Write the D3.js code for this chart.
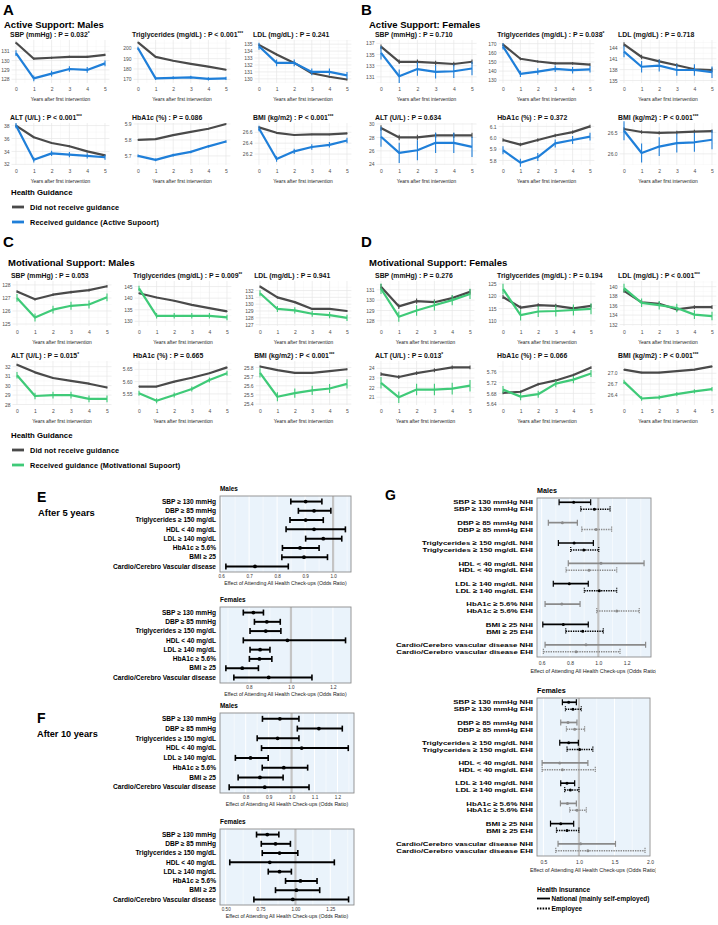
<!DOCTYPE html>
<html>
<head>
<meta charset="utf-8">
<script src="https://cdn.jsdelivr.net/npm/d3@7"></script>
<style>
  body { margin: 0; background: #fff; }
  svg { display: block; font-family: "Liberation Sans", Arial, Helvetica, sans-serif; }
</style>
</head>
<body>
<svg id="fig" width="718" height="925"></svg>
<script>
"use strict";

// ---------- data: trend panels A-D ----------
const years = [0, 1, 2, 3, 4, 5];
const measures = ["SBP (mmHg)", "Triglycerides (mg/dL)", "LDL (mg/dL)", "ALT (U/L)", "HbA1c (%)", "BMI (kg/m2)"];

const pA = ["= 0.032*", "< 0.001***", "= 0.241", "< 0.001***", "= 0.086", "< 0.001***"];
const ticksA = [[128, 129, 130, 131], [170, 180, 190, 200], [130, 131, 132, 133, 134, 135], [32, 34, 36, 38], [5.7, 5.8, 5.9], [26.2, 26.4, 26.6]];
const fmtA = ["d", "d", "d", "d", ".1f", ".1f"];
const domainA = [[127.6, 132.2], [166.5, 208], [129.4, 135.6], [31.9, 38.4], [5.643, 5.906], [26.0, 26.77]];
const noGuidanceA = [[131.9, 130.2, 130.3, 130.4, 130.4, 130.6], [205.7, 191.7, 188, 185, 182.3, 179.3], [134.9, 133.5, 132.3, 130.8, 130.3, 129.9], [38.0, 36.2, 35.3, 34.8, 34.0, 33.4], [5.80, 5.805, 5.83, 5.85, 5.87, 5.90], [26.69, 26.59, 26.55, 26.56, 26.56, 26.58]];
const guidanceA = [[130.8, 128.1, 128.6, 129.1, 129.0, 129.7], [200, 171, 171.5, 172, 170.5, 171], [134.7, 132.3, 132.3, 131.0, 131.0, 130.5], [38.0, 32.7, 33.7, 33.5, 33.3, 33.1], [5.70, 5.675, 5.705, 5.725, 5.76, 5.79], [26.67, 26.11, 26.25, 26.33, 26.37, 26.45]];
const errA = [[0.12, 0.3], [0.7, 1.5], [0.15, 0.5], [0.15, 0.4], [0.004, 0.008], [0.015, 0.05]];

const pB = ["= 0.710", "= 0.038*", "= 0.718", "= 0.634", "= 0.372", "< 0.001***"];
const ticksB = [[131, 133, 135, 137], [130, 140, 150, 160, 170], [135, 138, 141, 144], [24, 26, 28, 30], [5.8, 5.9, 6.0, 6.1], [26.0, 26.5]];
const fmtB = ["d", "d", "d", "d", ".1f", ".1f"];
const domainB = [[129.9, 137.6], [127, 174], [134.3, 146.2], [23.9, 30.15], [5.76, 6.13], [25.74, 26.72]];
const noGuidanceB = [[136.4, 133.7, 133.7, 133.5, 133.3, 133.7], [169, 153.5, 150.5, 148.5, 148.5, 147], [145, 141.5, 140.3, 139.2, 138.1, 137.9], [29.4, 28.0, 28.0, 28.3, 28.3, 28.3], [5.98, 5.94, 5.98, 6.02, 6.05, 6.10], [26.58, 26.51, 26.49, 26.50, 26.52, 26.53]];
const guidanceB = [[135.3, 131.1, 132.4, 131.9, 132.0, 132.5], [167, 137, 139.5, 142.5, 141, 142], [143, 138.8, 139.1, 137.9, 137.9, 137.3], [28.1, 25.7, 26.1, 27.2, 27.2, 26.6], [5.89, 5.78, 5.83, 5.95, 5.98, 6.01], [26.54, 26.02, 26.17, 26.25, 26.27, 26.33]];
const errB = [[0.4, 1.2], [1.5, 3.5], [0.6, 1.6], [0.4, 1.5], [0.015, 0.035], [0.04, 0.22]];

const pC = ["= 0.053", "= 0.009**", "= 0.941", "= 0.015*", "= 0.665", "< 0.001***"];
const ticksC = [[125, 126, 127, 128], [130, 135, 140, 145], [127, 128, 129, 130, 131, 132], [28, 29, 30, 31, 32], [5.55, 5.60, 5.65], [25.4, 25.5, 25.6, 25.7, 25.8]];
const fmtC = ["d", "d", "d", "d", ".2f", ".1f"];
const domainC = [[124.85, 128.3], [128, 147.4], [126.8, 133.4], [27.95, 32.6], [5.505, 5.684], [25.39, 25.87]];
const noGuidanceC = [[127.5, 126.9, 127.25, 127.45, 127.6, 127.9], [142.1, 140.3, 138.9, 137.1, 135.7, 134.3], [132.6, 131.0, 130.3, 129.3, 129.3, 129.0], [32.2, 31.4, 30.8, 30.5, 30.2, 29.8], [5.58, 5.58, 5.60, 5.616, 5.634, 5.658], [25.81, 25.77, 25.74, 25.74, 25.76, 25.78]];
const guidanceC = [[127.0, 125.5, 126.1, 126.4, 126.5, 127.05], [144.2, 132.4, 132.4, 132.4, 132.4, 131.7], [131.6, 129.3, 129.1, 128.6, 128.4, 128.0], [31.1, 28.9, 29.0, 29.0, 28.6, 28.6], [5.553, 5.522, 5.546, 5.57, 5.607, 5.634], [25.74, 25.48, 25.52, 25.55, 25.57, 25.62]];
const errC = [[0.1, 0.3], [0.3, 1.2], [0.15, 0.45], [0.1, 0.35], [0.003, 0.01], [0.01, 0.05]];

const pD = ["= 0.276", "= 0.194", "< 0.001***", "= 0.013*", "= 0.066", "< 0.001***"];
const ticksD = [[128, 129, 130, 131], [110, 115, 120, 125], [132, 134, 136, 138, 140], [21, 22, 23, 24], [5.64, 5.68, 5.72, 5.76], [26.4, 26.7, 27.0]];
const fmtD = ["d", "d", "d", "d", ".2f", ".1f"];
const domainD = [[127.5, 131.85], [107.9, 126.2], [131.7, 141.2], [20.2, 24.76], [5.637, 5.80], [26.12, 27.34]];
const noGuidanceD = [[131.3, 129.4, 129.9, 129.8, 130.2, 130.8], [119.7, 115.4, 116.4, 116.1, 115.1, 116.1], [139.1, 136.7, 136.4, 135.2, 135.7, 135.7], [23.4, 23.1, 23.5, 23.8, 24.1, 24.1], [5.682, 5.686, 5.714, 5.728, 5.748, 5.776], [27.1, 27.02, 27.02, 27.06, 27.1, 27.19]];
const guidanceD = [[131.1, 128.4, 129.0, 129.5, 130.0, 130.6], [122.9, 112.3, 113.8, 114.0, 114.4, 114.9], [139.7, 136.6, 136.1, 135.5, 134.1, 133.8], [22.5, 21.0, 21.8, 21.8, 21.9, 22.2], [5.694, 5.668, 5.677, 5.716, 5.731, 5.754], [26.76, 26.3, 26.33, 26.42, 26.5, 26.56]];
const errD = [[0.25, 0.5], [0.8, 2.2], [0.4, 0.9], [0.2, 0.6], [0.005, 0.013], [0.02, 0.06]];

// ---------- data: forest plots E-G (lower CI, odds ratio, upper CI) ----------
const riskLabels = ["SBP ≥ 130 mmHg", "DBP ≥ 85 mmHg", "Triglycerides ≥ 150 mg/dL", "HDL < 40 mg/dL", "LDL ≥ 140 mg/dL", "HbA1c ≥ 5.6%", "BMI ≥ 25", "Cardio/Cerebro Vascular disease"];
const riskLabelsG = ["SBP ≥ 130 mmHg", "DBP ≥ 85 mmHg", "Triglycerides ≥ 150 mg/dL", "HDL < 40 mg/dL", "LDL ≥ 140 mg/dL", "HbA1c ≥ 5.6%", "BMI ≥ 25", "Cardio/Cerebro vascular disease"];

const or5Males = [[0.849, 0.902, 0.96], [0.876, 0.932, 0.992], [0.846, 0.902, 0.965], [0.832, 0.932, 1.044], [0.902, 0.965, 1.031], [0.819, 0.882, 0.95], [0.817, 0.896, 0.98], [0.617, 0.721, 0.84]];
const or5Females = [[0.773, 0.821, 0.869], [0.826, 0.885, 0.949], [0.805, 0.88, 0.952], [0.773, 0.983, 1.26], [0.805, 0.853, 0.9], [0.802, 0.85, 0.909], [0.69, 0.768, 0.845], [0.728, 0.894, 1.1]];
const or10Males = [[0.873, 0.949, 1.032], [1.025, 1.119, 1.221], [0.85, 0.939, 1.032], [0.869, 1.044, 1.247], [0.755, 0.821, 0.898], [0.872, 0.966, 1.07], [0.767, 0.862, 0.963], [0.728, 0.883, 1.076]];
const or10Females = [[0.721, 0.798, 0.881], [0.755, 0.857, 0.964], [0.762, 0.886, 1.017], [0.529, 0.816, 1.279], [0.805, 0.886, 0.971], [0.929, 1.036, 1.155], [0.857, 1.007, 1.174], [0.702, 0.981, 1.381]];

const nhiMales = [[0.723, 0.826, 0.946], [0.647, 0.746, 0.852], [0.718, 0.829, 0.965], [0.788, 1.019, 1.323], [0.682, 0.795, 0.929], [0.624, 0.742, 0.871], [0.608, 0.753, 0.929], [0.624, 0.913, 1.334]];
const ehiMales = [[0.876, 0.972, 1.083], [0.883, 0.984, 1.094], [0.805, 0.897, 1.003], [0.772, 0.934, 1.13], [0.901, 1.007, 1.13], [0.989, 1.13, 1.289], [0.77, 0.89, 1.035], [0.612, 0.843, 1.153]];
const nhiFemales = [[0.767, 0.856, 0.964], [0.744, 0.846, 0.972], [0.73, 0.856, 0.992], [0.482, 0.73, 1.126], [0.744, 0.832, 0.94], [0.74, 0.838, 0.964], [0.6, 0.744, 0.926], [0.706, 1.024, 1.514]];
const ehiFemales = [[0.81, 0.916, 1.033], [0.824, 0.94, 1.08], [0.832, 1.01, 1.196], [0.482, 0.767, 1.23], [0.8, 0.88, 1.0], [0.87, 0.972, 1.104], [0.684, 0.832, 1.0], [0.674, 1.126, 1.93]];
const highlightG = [true, false, true, false, true, false, true, false];

const GREY = "#4a4a4a", BLUE = "#1f7fd9", GREEN = "#3fca78";
const svg = d3.select("#fig");

// ---------- trend plots ----------
function trendPlot(frame, spec) {
  const { left, right, top, bottom } = frame;
  const x = d3.scaleLinear().domain([-0.25, 5.25]).range([left, right]);
  const y = d3.scaleLinear().domain(spec.domain).range([bottom, top]);
  const g = svg.append("g");

  const step = spec.ticks[1] - spec.ticks[0];
  const minorY = [spec.ticks[0] - step / 2].concat(spec.ticks.map(t => t + step / 2))
    .filter(v => v > spec.domain[0] && v < spec.domain[1]);
  const minorX = [0.5, 1.5, 2.5, 3.5, 4.5];

  g.selectAll(".mny").data(minorY).join("line")
    .attr("x1", left).attr("x2", right).attr("y1", d => y(d)).attr("y2", d => y(d))
    .attr("stroke", "#f2f2f2").attr("stroke-width", 0.4);
  g.selectAll(".mnx").data(minorX).join("line")
    .attr("y1", top).attr("y2", bottom).attr("x1", d => x(d)).attr("x2", d => x(d))
    .attr("stroke", "#f2f2f2").attr("stroke-width", 0.4);
  g.selectAll(".mjy").data(spec.ticks).join("line")
    .attr("x1", left).attr("x2", right).attr("y1", d => y(d)).attr("y2", d => y(d))
    .attr("stroke", "#e6e6e6").attr("stroke-width", 0.7);
  g.selectAll(".mjx").data(years).join("line")
    .attr("y1", top).attr("y2", bottom).attr("x1", d => x(d)).attr("x2", d => x(d))
    .attr("stroke", "#e6e6e6").attr("stroke-width", 0.7);

  const ax = g.append("g").attr("transform", `translate(${left},0)`)
    .call(d3.axisLeft(y).tickValues(spec.ticks).tickFormat(d3.format(spec.fmt)).tickSize(0).tickPadding(2));
  ax.select(".domain").remove();
  ax.selectAll("text").attr("font-size", 5).attr("fill", "#4d4d4d").attr("font-family", null);

  const bx = g.append("g").attr("transform", `translate(0,${bottom})`)
    .call(d3.axisBottom(x).tickValues(years).tickFormat(d3.format("d")).tickSize(0).tickPadding(4));
  bx.select(".domain").remove();
  bx.selectAll("text").attr("font-size", 5).attr("fill", "#4d4d4d").attr("font-family", null);

  g.append("text").attr("x", (left + right) / 2).attr("y", bottom + 17.5)
    .attr("text-anchor", "middle").attr("font-size", 4.9).attr("fill", "#222")
    .text("Years after first intervention");

  const line = d3.line().x((d, i) => x(years[i])).y(d => y(d));
  const series = [{ v: spec.grey, c: GREY, e: spec.err[0] }, { v: spec.col, c: spec.colour, e: spec.err[1] }];
  series.forEach(s => {
    g.append("path").datum(s.v).attr("d", line).attr("fill", "none")
      .attr("stroke", s.c).attr("stroke-width", 2.2).attr("stroke-linejoin", "round");
    g.selectAll(null).data(s.v).join("line")
      .attr("x1", (d, i) => x(years[i])).attr("x2", (d, i) => x(years[i]))
      .attr("y1", d => y(d - s.e)).attr("y2", d => y(d + s.e))
      .attr("stroke", s.c).attr("stroke-width", 1.1);
  });

  const stars = spec.p.replace(/[^*]/g, "");
  const t = g.append("text").attr("x", left - 1.5).attr("y", top - 3.5)
    .attr("font-size", 6.9).attr("font-weight", "bold").attr("fill", "#111");
  t.append("tspan").text(`${spec.title} : P ${spec.p.replace(/\*/g, "")}`);
  if (stars) t.append("tspan").attr("font-size", 4.8).attr("dy", -2).text(stars);
}

function trendBlock(b) {
  svg.append("text").attr("x", b.letter[0]).attr("y", b.letter[1]).attr("font-size", 15)
    .attr("font-weight", "bold").text(b.name);
  svg.append("text").attr("x", b.heading[0]).attr("y", b.heading[1]).attr("font-size", 9.5)
    .attr("font-weight", "bold").text(b.title);
  measures.forEach((m, i) => {
    const row = b.rows[Math.floor(i / 3)], c = i % 3;
    const x0 = b.cols[c] + b.dx, x5 = x0 + b.span[c];
    const unit = (x5 - x0) / 5;
    trendPlot({ left: x0 - unit / 4, right: x5 + unit / 4, top: row[0], bottom: row[1] },
      { title: m, p: b.p[i], ticks: b.ticks[i], fmt: b.fmt[i], domain: b.domain[i],
        grey: b.grey[i], col: b.col[i], err: b.err[i], colour: b.colour });
  });
}

function guidanceLegend(top, colour, label) {
  const g = svg.append("g").attr("font-weight", "bold");
  g.append("text").attr("x", 11).attr("y", top + 2.7).attr("font-size", 7.8).text("Health Guidance");
  [[GREY, "Did not receive guidance"], [colour, label]].forEach((d, i) => {
    const yy = top + 15 + i * 15;
    g.append("line").attr("x1", 12).attr("x2", 24).attr("y1", yy).attr("y2", yy)
      .attr("stroke", d[0]).attr("stroke-width", 2.8);
    g.append("text").attr("x", 30).attr("y", yy + 2.6).attr("font-size", 7.3)
      .attr("letter-spacing", 0.12).text(d[1]);
  });
}

const colsTop = [16, 138, 259], spanTop = [89, 88, 88];
trendBlock({ name: "A", title: "Active Support: Males", letter: [3, 15], heading: [4, 27.5], dx: 0,
  cols: colsTop, span: spanTop, rows: [[40, 83], [123, 165]], colour: BLUE,
  p: pA, ticks: ticksA, fmt: fmtA, domain: domainA, grey: noGuidanceA, col: guidanceA, err: errA });
trendBlock({ name: "B", title: "Active Support: Females", letter: [361, 15], heading: [369, 27.5], dx: 365,
  cols: colsTop, span: [91, 87, 88], rows: [[40, 83], [123, 165]], colour: BLUE,
  p: pB, ticks: ticksB, fmt: fmtB, domain: domainB, grey: noGuidanceB, col: guidanceB, err: errB });
trendBlock({ name: "C", title: "Motivational Support: Males", letter: [3, 247], heading: [8, 266], dx: 1,
  cols: colsTop, span: [90, 88, 87], rows: [[281, 326], [361, 405]], colour: GREEN,
  p: pC, ticks: ticksC, fmt: fmtC, domain: domainC, grey: noGuidanceC, col: guidanceC, err: errC });
trendBlock({ name: "D", title: "Motivational Support: Females", letter: [361, 247], heading: [369, 266], dx: 365,
  cols: colsTop, span: [89, 88, 88], rows: [[281, 326], [361, 405]], colour: GREEN,
  p: pD, ticks: ticksD, fmt: fmtD, domain: domainD, grey: noGuidanceD, col: guidanceD, err: errD });

guidanceLegend(192, BLUE, "Received guidance (Active Supoort)");
guidanceLegend(435, GREEN, "Received guidance (Motivational Supoort)");

// ---------- forest plots ----------
function forestFrame(g, x, frame, spec) {
  const { left, right, top, bottom } = frame;
  g.append("rect").attr("x", left).attr("y", top).attr("width", right - left).attr("height", bottom - top)
    .attr("fill", "#eaf3fb");
  const step = spec.ticks[1] - spec.ticks[0];
  const minor = [spec.ticks[0] - step / 2].concat(spec.ticks.map(t => t + step / 2))
    .filter(v => v > spec.domain[0] && v < spec.domain[1]);
  g.selectAll(null).data(minor).join("line")
    .attr("x1", d => x(d)).attr("x2", d => x(d)).attr("y1", top).attr("y2", bottom)
    .attr("stroke", "#fff").attr("stroke-width", 0.5);
  g.selectAll(null).data(spec.ticks).join("line")
    .attr("x1", d => x(d)).attr("x2", d => x(d)).attr("y1", top).attr("y2", bottom)
    .attr("stroke", "#fff").attr("stroke-width", 1);
  g.append("line").attr("x1", x(1)).attr("x2", x(1)).attr("y1", top).attr("y2", bottom)
    .attr("stroke", "#c4c4c4").attr("stroke-width", 2.2);

  const ax = g.append("g").attr("transform", `translate(0,${bottom})`)
    .call(d3.axisBottom(x).tickValues(spec.ticks).tickFormat(d3.format(spec.fmt)).tickSize(0).tickPadding(spec.pad));
  ax.select(".domain").remove();
  ax.selectAll("text").attr("font-size", spec.tickSize).attr("fill", "#333").attr("font-family", null);
  g.append("text").attr("x", (left + right) / 2).attr("y", bottom + spec.titleGap).attr("text-anchor", "middle")
    .attr("font-size", spec.axisSize).attr("fill", "#222").text("Effect of Attending All Health Check-ups (Odds Ratio)");
  g.append("text").attr("x", left).attr("y", top - 5).attr("font-size", spec.headSize)
    .attr("font-weight", "bold").text(spec.title);
}

function forestPlot(frame, spec) {
  const g = svg.append("g");
  const x = d3.scaleLinear().domain(spec.domain).range([frame.left, frame.right]);
  const y = d3.scalePoint().domain(riskLabels).range([frame.top, frame.bottom]).padding(0.6);
  forestFrame(g, x, frame, Object.assign({ pad: 3, tickSize: 4.6, axisSize: 5.2, titleGap: 13, headSize: 6.4 }, spec));

  const rows = spec.rows.map((r, i) => ({ label: riskLabels[i], lo: r[0], est: r[1], hi: r[2] }));
  g.selectAll(null).data(rows).join("line")
    .attr("x1", d => x(d.lo)).attr("x2", d => x(d.hi)).attr("y1", d => y(d.label)).attr("y2", d => y(d.label))
    .attr("stroke", "#000").attr("stroke-width", 2);
  ["lo", "hi"].forEach(k => {
    g.selectAll(null).data(rows).join("line")
      .attr("x1", d => x(d[k])).attr("x2", d => x(d[k]))
      .attr("y1", d => y(d.label) - 3).attr("y2", d => y(d.label) + 3)
      .attr("stroke", "#000").attr("stroke-width", 1.6);
  });
  g.selectAll(null).data(rows).join("circle")
    .attr("cx", d => x(d.est)).attr("cy", d => y(d.label)).attr("r", 1.9).attr("fill", "#000");
  g.selectAll(null).data(rows).join("text")
    .attr("x", frame.left - 4).attr("y", d => y(d.label) + 2.2).attr("text-anchor", "end")
    .attr("font-size", 6.6).attr("font-weight", "bold").text(d => d.label);
  g.append("rect").attr("x", frame.left).attr("y", frame.top).attr("width", frame.right - frame.left)
    .attr("height", frame.bottom - frame.top).attr("fill", "none").attr("stroke", "#8c8c8c").attr("stroke-width", 0.9);
}

svg.append("text").attr("x", 37).attr("y", 502).attr("font-size", 14).attr("font-weight", "bold").text("E");
svg.append("text").attr("x", 38).attr("y", 515.5).attr("font-size", 9.4).attr("font-weight", "bold").text("After 5 years");
svg.append("text").attr("x", 37).attr("y", 723).attr("font-size", 14).attr("font-weight", "bold").text("F");
svg.append("text").attr("x", 37).attr("y", 736.5).attr("font-size", 9.2).attr("font-weight", "bold").text("After 10 years");

forestPlot({ left: 220, right: 351, top: 496, bottom: 572 },
  { title: "Males", rows: or5Males, domain: [0.596, 1.064], ticks: [0.6, 0.7, 0.8, 0.9, 1.0], fmt: ".1f" });
forestPlot({ left: 220, right: 351, top: 607, bottom: 683 },
  { title: "Females", rows: or5Females, domain: [0.662, 1.286], ticks: [0.8, 1.0, 1.2], fmt: ".1f" });
forestPlot({ left: 220, right: 354, top: 713, bottom: 793 },
  { title: "Males", rows: or10Males, domain: [0.688, 1.272], ticks: [0.8, 0.9, 1.0, 1.1, 1.2], fmt: ".1f" });
forestPlot({ left: 220, right: 354, top: 829, bottom: 905 },
  { title: "Females", rows: or10Females, domain: [0.459, 1.42], ticks: [0.5, 0.75, 1.0, 1.25], fmt: ".2f" });

// ---------- panel G: by health insurance ----------
svg.append("defs").append("clipPath").attr("id", "clipG")
  .append("rect").attr("x", 360).attr("y", 470).attr("width", 296).attr("height", 455);
const panelG = svg.append("g").attr("clip-path", "url(#clipG)");
panelG.append("text").attr("x", 385).attr("y", 500).attr("font-size", 14).attr("font-weight", "bold").text("G");

function insurancePlot(frame, spec) {
  const g = panelG.append("g");
  const x = d3.scaleLinear().domain(spec.domain).range([frame.left, frame.right]);
  const y = d3.scaleLinear().domain([-0.21, 7.6]).range([frame.top, frame.bottom]);
  forestFrame(g, x, frame, Object.assign({ pad: 4, tickSize: 5, axisSize: 5.4, titleGap: 16, headSize: 7.2 }, spec));

  const rows = [];
  riskLabelsG.forEach((lab, i) => {
    rows.push({ label: lab + " NHI", pos: i, r: spec.nhi[i], dotted: false, dark: highlightG[i] });
    rows.push({ label: lab + " EHI", pos: i + 0.34, r: spec.ehi[i], dotted: true, dark: highlightG[i] });
  });
  const col = d => d.dark ? "#000" : "#8a8a8a";
  g.selectAll(null).data(rows).join("line")
    .attr("x1", d => x(d.r[0])).attr("x2", d => x(d.r[2])).attr("y1", d => y(d.pos)).attr("y2", d => y(d.pos))
    .attr("stroke", col).attr("stroke-width", d => d.dotted ? 1.5 : 1.7)
    .attr("stroke-dasharray", d => d.dotted ? "1.4,1" : null);
  [0, 2].forEach(k => {
    g.selectAll(null).data(rows).join("line")
      .attr("x1", d => x(d.r[k])).attr("x2", d => x(d.r[k]))
      .attr("y1", d => y(d.pos) - 3).attr("y2", d => y(d.pos) + 3)
      .attr("stroke", col).attr("stroke-width", 1.2)
      .attr("stroke-dasharray", d => d.dotted ? "1.2,0.8" : null);
  });
  g.selectAll(null).data(rows).join("circle")
    .attr("cx", d => x(d.r[1])).attr("cy", d => y(d.pos)).attr("r", 1.5).attr("fill", col);
  // labels are packed 7px apart, so they are drawn a little wide and short
  g.selectAll(null).data(rows).join("text")
    .attr("transform", d => `translate(${frame.left - 4},${y(d.pos) + 2.2}) scale(1.26,1)`)
    .attr("text-anchor", "end")
    .attr("font-size", 6.2).attr("font-weight", "bold").text(d => d.label);
  g.append("rect").attr("x", frame.left).attr("y", frame.top).attr("width", frame.right - frame.left)
    .attr("height", frame.bottom - frame.top).attr("fill", "none").attr("stroke", "#8c8c8c").attr("stroke-width", 0.9);
}

insurancePlot({ left: 537, right: 651, top: 498, bottom: 657 },
  { title: "Males", nhi: nhiMales, ehi: ehiMales, domain: [0.567, 1.372], ticks: [0.6, 0.8, 1.0, 1.2], fmt: ".1f" });
insurancePlot({ left: 537, right: 650, top: 698, bottom: 856 },
  { title: "Females", nhi: nhiFemales, ehi: ehiFemales, domain: [0.41, 2.0], ticks: [0.5, 1.0, 1.5, 2.0], fmt: ".1f" });

const legG = svg.append("g").attr("font-weight", "bold");
legG.append("text").attr("x", 537).attr("y", 891.5).attr("font-size", 6.6).text("Health Insurance");
[["National (mainly self-employed)", null], ["Employee", "1.6,1.2"]].forEach((d, i) => {
  const yy = 898.5 + i * 10;
  legG.append("line").attr("x1", 537).attr("x2", 550).attr("y1", yy).attr("y2", yy)
    .attr("stroke", "#000").attr("stroke-width", 1.8).attr("stroke-dasharray", d[1]);
  legG.append("text").attr("x", 551.5).attr("y", yy + 2.2).attr("font-size", 6.5).text(d[0]);
});
</script>
</body>
</html>
